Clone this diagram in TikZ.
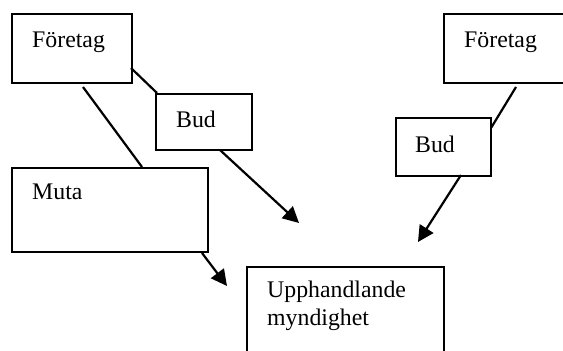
\documentclass[tikz,border=0pt]{standalone}
\usepackage{fontspec}
\setmainfont{Liberation Serif}
\usetikzlibrary{arrows.meta}
\begin{document}
\begin{tikzpicture}[x=1pt,y=1pt,
  boxstyle/.style={draw, line width=2pt, rectangle, inner sep=0pt},
  txt/.style={anchor=base west, inner sep=0pt, font=\fontsize{23.8}{28}\selectfont},
  conn/.style={line width=2.2pt},
  arr/.style={line width=2.2pt, -{Triangle[length=16pt,width=16pt]}}]
\useasboundingbox (0,0) rectangle (563,-351);
\clip (0,0) rectangle (563,-351);
% boxes
\node[boxstyle, minimum width=120pt, minimum height=69pt, anchor=north west] (f1) at (11,-13) {};
\node[boxstyle, minimum width=96pt, minimum height=56pt, anchor=north west] (b1) at (155,-93) {};
\node[boxstyle, minimum width=196pt, minimum height=84pt, anchor=north west] (m) at (11,-167) {};
\node[boxstyle, minimum width=197pt, minimum height=100pt, anchor=north west] (u) at (246,-266) {};
\node[boxstyle, minimum width=140pt, minimum height=69pt, anchor=north west] (f2) at (443,-13) {};
\node[boxstyle, minimum width=95pt, minimum height=58pt, anchor=north west] (b2) at (395,-117) {};
% texts
\node[txt] (f1t) at (32,-47) {Företag};
\node[txt] (b1t) at (176,-127) {Bud};
\node[txt] (mt) at (32,-199) {Muta};
\node[txt] (ut1) at (267,-297) {Upphandlande};
\node[txt] (ut2) at (267,-325) {myndighet};
\node[txt] (f2t) at (464,-47) {Företag};
\node[txt] (b2t) at (415,-152) {Bud};
% connector endpoints
\coordinate (c1a) at (131,-68);
\coordinate (c1b) at (157,-93);
\coordinate (c2a) at (83,-87);
\coordinate (c2b) at (142,-167);
\coordinate (c3a) at (220,-150);
\coordinate (c3b) at (299,-223);
\coordinate (c4a) at (202,-253);
\coordinate (c4b) at (227,-286);
\coordinate (c5a) at (516,-87);
\coordinate (c5b) at (491,-128);
\coordinate (c6a) at (461,-175);
\coordinate (c6b) at (418,-242);
% connectors
\draw[conn] (c1a) -- (c1b);
\draw[conn] (c2a) -- (c2b);
\draw[arr] (c3a) -- (c3b);
\draw[arr] (c4a) -- (c4b);
\draw[conn] (c5a) -- (c5b);
\draw[arr] (c6a) -- (c6b);
\end{tikzpicture}
\end{document}
